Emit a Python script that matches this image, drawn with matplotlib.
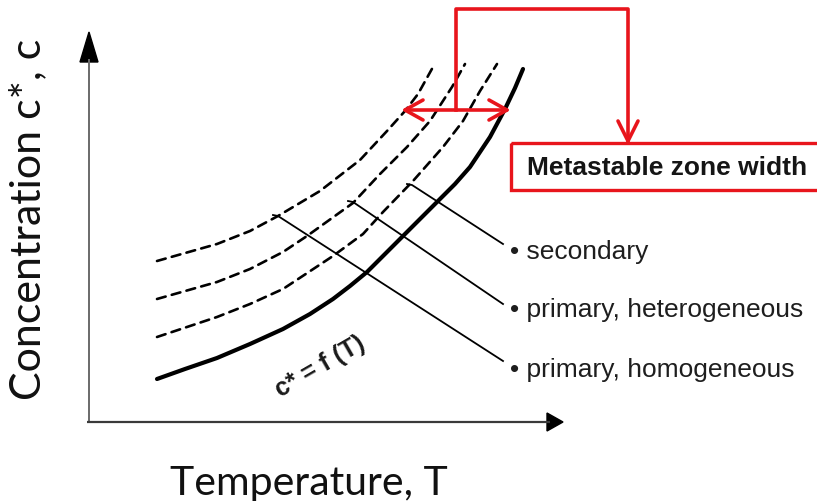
import matplotlib
matplotlib.use("Agg")
import matplotlib.pyplot as plt
from matplotlib.patches import Polygon, Rectangle

# ---- data (schematic; units = temperature / concentration in image space) ----
solubility_T = [157, 185, 217, 250, 283, 310, 333, 350, 367, 385, 403, 420, 438, 455, 470, 490, 505, 515, 523]
solubility_c = [380, 370, 359, 345, 330, 315, 300, 287, 273, 255, 237, 220, 202, 185, 168, 138, 110, 89, 70]

homog_T = [157, 217, 250, 278, 320, 360, 387, 405, 418, 433]
homog_c = [262, 245, 232, 217, 192, 161, 132, 112, 95, 68]

heterog_T = [157, 217, 250, 283, 307, 353, 380, 407, 430, 452, 465]
heterog_c = [300, 283, 270, 253, 237, 204, 175, 148, 122, 88, 65]

secondary_T = [157, 217, 250, 283, 333, 363, 383, 413, 443, 463, 480, 497]
secondary_c = [338, 318, 305, 290, 257, 235, 213, 182, 148, 122, 92, 65]

labels = ["• secondary", "• primary, heterogeneous", "• primary, homogeneous"]
# leader start (on boundary curve) and end points
leader_start_T = [412, 353, 278]
leader_start_c = [186, 203, 217]
leader_end_T = [503, 503, 503]
leader_end_c = [245, 305, 362]
label_c = [252, 310, 370]

RED = "#e8151c"
W, H = 817, 502

fig = plt.figure(figsize=(W / 100, H / 100), dpi=100)
ax = fig.add_axes([0, 0, 1, 1])
ax.set_xlim(0, W)
ax.set_ylim(H, 0)
ax.axis("off")

# axes with arrows
axc = "#3a3a3a"
ax.plot([89, 89], [424, 60], color="#6a6a6a", lw=1.4, solid_capstyle="butt")
ax.plot([87, 550], [423, 423], color=axc, lw=1.6, solid_capstyle="butt")
ax.add_patch(Polygon([[89, 33], [80, 63], [98, 63]], closed=True, color="black"))
ax.add_patch(Polygon([[563, 423], [547, 414], [547, 432]], closed=True, color="black"))

# curves
ax.plot(solubility_T, solubility_c, color="black", lw=3.0, solid_capstyle="round",
        solid_joinstyle="round")
for T, c in [(homog_T, homog_c), (heterog_T, heterog_c), (secondary_T, secondary_c)]:
    ax.plot(T, c, color="black", lw=1.9, linestyle=(0, (3.4, 2.4)),
            dash_capstyle="round")

# leader lines and labels
for i, lab in enumerate(labels):
    ax.plot([leader_start_T[i] - 5, leader_start_T[i], leader_end_T[i]],
            [leader_start_c[i] - 1, leader_start_c[i], leader_end_c[i]],
            color="black", lw=1.3)
    ax.text(510, label_c[i], lab, fontsize=19, family="Liberation Sans",
            color="#1e1e1e", ha="left", va="center")

# c* = f(T)
ax.text(320, 367, "c* = f (T)", fontsize=18, fontweight="bold", family="Liberation Sans",
        rotation=30, ha="center", va="center", color="#1a1a1a")

# metastable zone width annotation
ax.plot([405, 507], [111, 111], color=RED, lw=2.6, solid_capstyle="round")
ax.plot([423, 405, 423], [101, 111, 121], color=RED, lw=2.6, solid_capstyle="round",
        solid_joinstyle="round")
ax.plot([489, 507, 489], [101, 111, 121], color=RED, lw=2.6, solid_capstyle="round",
        solid_joinstyle="round")
ax.plot([456, 456, 628, 628], [111, 10, 10, 142], color=RED, lw=2.6,
        solid_joinstyle="round")
ax.plot([618, 628, 638], [122, 142, 122], color=RED, lw=2.6, solid_capstyle="round",
        solid_joinstyle="round")
ax.add_patch(Rectangle((511, 144), 320, 47, fill=False, edgecolor=RED, lw=2.4))
ax.text(527, 168, "Metastable zone width", fontsize=19, fontweight="bold",
        family="Liberation Sans", color="#151515", ha="left", va="center")

# axis titles
ax.text(309, 495, "Temperature, T", fontsize=29.5, family="Lato", color="#111111",
        ha="center", va="baseline")
ax.text(28, 219, "Concentration c*, c", fontsize=31, family="Lato", color="#111111",
        ha="center", va="center", rotation=90)

fig.savefig("out.png", dpi=100)
